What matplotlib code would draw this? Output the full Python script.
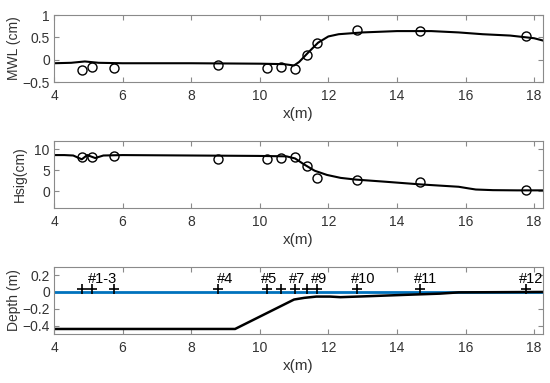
import matplotlib
matplotlib.use('Agg')
import matplotlib.pyplot as plt

# gauge positions (m)
gauge_x = [4.83, 5.12, 5.75, 8.79, 10.21, 10.62, 11.02, 11.37, 11.67, 12.84, 14.68, 17.76]

# measured mean water level (cm) and significant wave height (cm)
mwl_obs = [-0.23, -0.16, -0.18, -0.11, -0.19, -0.17, -0.21, 0.11, 0.38, 0.67, 0.65, 0.52]
hsig_obs = [8.1, 8.2, 8.3, 7.7, 7.7, 7.9, 8.1, 5.9, 3.2, 2.7, 2.3, 0.45]

# model MWL
mwl_model_x = [4.0, 4.5, 4.9, 5.3, 6.0, 8.0, 10.0, 10.7, 11.0, 11.15, 11.4, 11.7,
               12.0, 12.3, 13.0, 14.0, 15.0, 15.8, 16.5, 17.3, 18.0, 18.25]
mwl_model = [-0.08, -0.07, -0.04, -0.07, -0.08, -0.08, -0.09, -0.1, -0.13, -0.05, 0.15, 0.38,
             0.52, 0.57, 0.61, 0.64, 0.64, 0.61, 0.57, 0.54, 0.48, 0.43]

# model Hsig
hsig_model_x = [4.0, 4.3, 4.56, 4.81, 4.97, 5.2, 5.44, 6.0, 8.0, 9.95, 10.78, 11.03, 11.29,
                11.6, 11.96, 12.36, 12.8, 13.65, 14.7, 15.4, 15.8, 16.1, 16.3, 16.8, 17.5, 18.25]
hsig_model = [8.6, 8.6, 8.5, 7.6, 8.6, 7.9, 8.5, 8.6, 8.5, 8.4, 8.3, 7.8, 6.4,
              4.9, 3.9, 3.2, 2.8, 2.3, 1.65, 1.3, 1.1, 0.7, 0.45, 0.3, 0.25, 0.25]

# bed profile (m)
bed_x = [4.0, 9.28, 11.0, 11.3, 11.65, 12.05, 12.35, 13.2, 14.2, 15.25, 15.8, 18.25]
bed_z = [-0.44, -0.44, -0.09, -0.07, -0.055, -0.055, -0.062, -0.05, -0.035, -0.02, -0.005, 0.0]

# gauge labels
label_text = ['#1-3', '#4', '#5', '#7', '#9', '#10', '#11', '#12']
label_x = [5.0, 8.76, 10.02, 10.85, 11.49, 12.65, 14.5, 17.55]

plt.rcParams['font.family'] = ['Liberation Sans', 'DejaVu Sans']
plt.rcParams['font.size'] = 10
plt.rcParams['axes.unicode_minus'] = True

frame_col = '#8a8a8a'
text_col = '#333333'

fig = plt.figure(figsize=(5.5, 3.83), dpi=100)
left, width = 0.0982, 0.8885
ax1 = fig.add_axes([left, 0.7859, width, 0.1749])
ax2 = fig.add_axes([left, 0.4561, width, 0.1765])
ax3 = fig.add_axes([left, 0.1279, width, 0.1757])

# MWL
ax1.plot(mwl_model_x, mwl_model, color='black', lw=1.5)
ax1.plot(gauge_x, mwl_obs, 'o', mfc='none', mec='black', ms=6.5, mew=1.0)
ax1.set_ylim(-0.5, 1)
ax1.set_yticks([-0.5, 0, 0.5, 1])
ax1.set_yticklabels(['\u22120.5', '0', '0.5', '1'])
ax1.set_ylabel('MWL (cm)')
ax1.yaxis.set_label_coords(-0.068, 0.5)

# Hsig
ax2.plot(hsig_model_x, hsig_model, color='black', lw=1.5)
ax2.plot(gauge_x, hsig_obs, 'o', mfc='none', mec='black', ms=6.5, mew=1.0)
ax2.set_ylim(-4, 12)
ax2.set_yticks([0, 5, 10])
ax2.set_ylabel('Hsig(cm)')
ax2.yaxis.set_label_coords(-0.055, 0.5)

# depth
ax3.axhline(0, color='#0072BD', lw=2)
ax3.plot(bed_x, bed_z, color='black', lw=1.8)
ax3.plot(gauge_x, [0.03] * len(gauge_x), '+', color='black', ms=7, mew=1.2)
for t, lx in zip(label_text, label_x):
    ax3.text(lx, 0.15, t, ha='left', va='center', fontsize=10.5, color='black')
ax3.set_ylim(-0.5, 0.3)
ax3.set_yticks([-0.4, -0.2, 0, 0.2])
ax3.set_yticklabels(['\u22120.4', '\u22120.2', '0', '0.2'])
ax3.set_ylabel('Depth (m)')
ax3.yaxis.set_label_coords(-0.068, 0.5)

for ax in (ax1, ax2, ax3):
    ax.set_xlim(4, 18.25)
    ax.set_xticks([4, 6, 8, 10, 12, 14, 16, 18])
    ax.set_xlabel('x(m)', fontsize=11, color=text_col, labelpad=3)
    ax.yaxis.label.set_color(text_col)
    ax.yaxis.label.set_fontsize(10)
    ax.tick_params(direction='in', top=True, right=True, length=3.5, width=0.8,
                   color=frame_col, labelcolor=text_col, labelsize=10)
    ax.tick_params(axis='x', pad=5)
    ax.tick_params(axis='y', pad=3)
    for s in ax.spines.values():
        s.set_color(frame_col)
        s.set_linewidth(0.8)

fig.savefig('out.png', dpi=100)
